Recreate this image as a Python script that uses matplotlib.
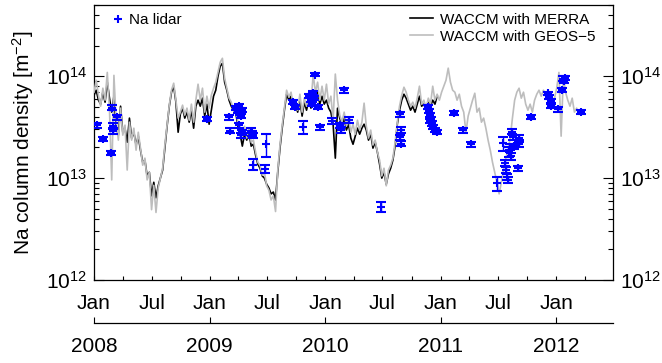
import numpy as np
import pandas as pd
import matplotlib
matplotlib.use("Agg")
import matplotlib.pyplot as plt
import matplotlib.dates as mdates
from matplotlib.lines import Line2D
from matplotlib.ticker import LogLocator, NullFormatter, NullLocator

plt.rcParams['font.family'] = ['Liberation Sans', 'DejaVu Sans']
plt.rcParams['mathtext.fontset'] = 'custom'
plt.rcParams['mathtext.rm'] = 'Liberation Sans'
plt.rcParams['mathtext.it'] = 'Liberation Sans:italic'

# Column densities are given in units of 1e13 m^-2
UNIT = 1e13

# WACCM model output, weekly samples starting 1 Jan 2008
model_start = "2008-01-01"
model_step_days = 7

merra_na = [
    6.51, 7.29, 5.82, 5.32, 6.97, 5.56, 8.74, 6.09, 4.44, 6.37,
    3.23, 2.64, 5.08, 2.82, 3.09, 2.25, 3.88, 2.47, 2.82, 2.11,
    2.58, 1.88, 1.43, 1.50, 1.05, 1.14, 0.67, 0.91, 0.64, 0.84,
    1.00, 1.20, 1.97, 3.23, 5.08, 6.97, 7.98, 5.56, 2.82, 4.24,
    4.86, 3.88, 4.44, 3.54, 4.64, 3.09, 5.08, 5.82, 5.08, 6.09,
    4.06, 5.32, 3.38, 4.64, 6.37, 7.29, 10.0, 12.5, 13.4, 8.74,
    7.29, 5.82, 5.08, 4.64, 4.44, 3.23, 2.70, 2.06, 2.70, 2.36,
    2.82, 2.06, 2.15, 1.68, 1.37, 1.25, 1.05, 1.00, 0.87, 0.80,
    0.70, 0.73, 0.61, 1.14, 1.97, 3.09, 4.64, 6.66, 5.82, 6.37,
    4.86, 5.32, 4.44, 5.82, 4.06, 5.56, 4.64, 5.82, 4.86, 7.29,
    6.09, 6.97, 5.32, 6.37, 5.32, 5.82, 4.86, 4.44, 3.38, 1.57,
    4.86, 3.88, 3.23, 3.88, 2.96, 3.38, 2.47, 2.15, 2.58, 3.09,
    2.70, 3.09, 3.38, 2.96, 2.36, 2.70, 1.97, 2.25, 1.80, 1.37,
    1.00, 1.14, 0.87, 1.10, 1.25, 1.50, 2.06, 3.38, 4.64, 5.82,
    6.66, 6.09, 5.32, 4.64, 5.08, 4.44, 5.32, 6.37, 5.08, 5.32,
    4.64, 5.56, 5.08, 5.82, 5.32, 6.37,
]

geos5_na = [
    6.97, 9.14, 6.51, 5.08, 7.63, 5.82, 10.9, 4.64, 0.96, 10.2,
    3.70, 2.36, 4.86, 2.64, 3.31, 1.20, 3.54, 2.36, 3.09, 1.88,
    2.82, 1.97, 1.34, 1.57, 0.96, 1.14, 0.49, 0.85, 0.46, 0.80,
    1.00, 1.25, 2.11, 3.31, 5.20, 7.29, 8.54, 5.82, 3.88, 4.44,
    5.20, 4.15, 4.86, 3.70, 5.32, 3.54, 5.82, 8.35, 5.82, 7.63,
    4.44, 6.37, 4.86, 6.51, 7.63, 8.74, 10.9, 13.7, 15.0, 9.56,
    7.63, 6.09, 5.56, 4.64, 4.86, 3.54, 3.09, 2.64, 3.23, 2.47,
    3.09, 2.25, 2.36, 1.80, 1.43, 1.34, 1.07, 1.14, 0.84, 0.76,
    0.61, 0.67, 0.47, 1.20, 2.11, 3.31, 4.86, 7.29, 6.23, 6.97,
    5.20, 5.82, 4.64, 6.66, 4.44, 6.09, 5.08, 6.37, 5.32, 10.5,
    6.97, 8.74, 5.82, 7.98, 5.82, 8.35, 5.32, 6.37, 3.70, 10.5,
    5.82, 4.15, 3.54, 4.44, 3.23, 3.88, 2.82, 3.38, 2.70, 3.70,
    2.96, 3.54, 5.44, 3.23, 2.47, 2.96, 2.11, 2.36, 1.80, 1.50,
    1.05, 1.25, 0.84, 1.20, 1.34, 1.57, 2.25, 3.54, 5.08, 6.51,
    7.80, 6.97, 5.82, 5.08, 5.56, 4.86, 6.09, 7.98, 5.32, 5.82,
    4.86, 6.09, 5.32, 7.98, 5.82, 6.66, 5.82, 6.97, 7.98, 9.14,
    12.0, 8.74, 7.29, 6.97, 5.82, 6.66, 5.08, 4.44, 2.82, 4.06,
    4.86, 5.82, 6.81, 4.44, 4.86, 3.54, 3.88, 3.09, 2.36, 1.88,
    1.43, 1.14, 0.91, 0.70, 0.91, 1.20, 1.57, 1.88, 2.47, 3.88,
    5.82, 6.97, 7.63, 6.09, 6.97, 5.32, 4.64, 5.32, 4.44, 5.82,
    6.66, 7.29, 6.37, 7.29, 6.66, 5.82, 6.37, 5.08, 6.09, 7.63,
    10.9, 2.58, 10.0, 6.97, 5.82, 5.08, 6.09, 4.44, 4.86, 4.24,
]

# Na lidar observations with 1-sigma uncertainties
lidar_dates = [
    "2008-01-12", "2008-01-31", "2008-02-25", "2008-02-28", "2008-03-01",
    "2008-03-02", "2008-03-13", "2008-12-23", "2009-03-04", "2009-03-06",
    "2009-03-26", "2009-03-31", "2009-04-03", "2009-04-05", "2009-04-08",
    "2009-04-10", "2009-04-11", "2009-04-13", "2009-04-14", "2009-05-10",
    "2009-05-13", "2009-05-17", "2009-05-18", "2009-06-26", "2009-06-29",
    "2009-09-22", "2009-09-26", "2009-10-23", "2009-11-12", "2009-11-17",
    "2009-11-19", "2009-11-22", "2009-11-27", "2009-12-01", "2009-12-09",
    "2009-12-15", "2010-01-23", "2010-02-17", "2010-02-20", "2010-03-03",
    "2010-03-17", "2010-06-25", "2010-08-25", "2010-08-27", "2010-08-28",
    "2010-08-29", "2010-11-21", "2010-11-26", "2010-11-28", "2010-11-29",
    "2010-12-02", "2010-12-04", "2010-12-07", "2010-12-13", "2010-12-20",
    "2011-02-13", "2011-03-12", "2011-04-06", "2011-06-27", "2011-07-18",
    "2011-07-24", "2011-07-26", "2011-07-29", "2011-08-01", "2011-08-05",
    "2011-08-09", "2011-08-11", "2011-08-14", "2011-08-17", "2011-08-20",
    "2011-09-04", "2011-09-06", "2011-09-07", "2011-10-13", "2011-12-05",
    "2011-12-10", "2011-12-15", "2011-12-17", "2012-01-08", "2012-01-21",
    "2012-01-23", "2012-01-25", "2012-01-28", "2012-03-21",
]
lidar_na = [
    3.31, 2.44, 1.75, 4.93, 2.91, 3.23, 3.94, 3.83, 3.94, 2.93,
    4.86, 4.54, 3.31, 5.08, 4.34, 2.64, 4.05, 2.82, 4.64, 2.92,
    2.76, 2.64, 1.36, 1.24, 2.15, 5.60, 5.02, 3.18, 6.37, 5.82,
    5.32, 6.81, 6.09, 10.34, 5.02, 3.14, 3.65, 3.31, 2.96, 7.29,
    3.75, 0.523, 4.24, 2.52, 2.18, 2.99, 4.97, 4.54, 3.62, 4.15,
    3.79, 3.46, 3.16, 2.96, 2.82, 4.34, 2.96, 2.14, 0.887, 2.19,
    1.40, 1.20, 1.02, 0.96, 1.80, 2.01, 1.64, 2.84, 2.52, 2.06,
    1.25, 2.50, 2.15, 3.99, 6.77, 6.27, 5.69, 5.11, 4.75, 7.29,
    9.49, 8.93, 9.66, 4.47,
]
lidar_err = [
    0.19, 0.12, 0.08, 0.28, 0.20, 0.23, 0.23, 0.18, 0.18, 0.14,
    0.22, 0.22, 0.19, 0.24, 0.20, 0.15, 0.20, 0.15, 0.22, 0.17,
    0.16, 0.15, 0.17, 0.12, 0.54, 0.25, 0.22, 0.48, 0.30, 0.28,
    0.25, 0.30, 0.28, 0.40, 0.24, 0.15, 0.25, 0.20, 0.18, 0.40,
    0.25, 0.058, 0.25, 0.15, 0.13, 0.22, 0.25, 0.22, 0.18, 0.20,
    0.20, 0.18, 0.16, 0.15, 0.14, 0.18, 0.16, 0.12, 0.135, 0.33,
    0.10, 0.08, 0.07, 0.07, 0.20, 0.14, 0.12, 0.16, 0.14, 0.12,
    0.07, 0.14, 0.12, 0.20, 0.30, 0.30, 0.28, 0.25, 0.25, 0.35,
    0.45, 0.42, 0.45, 0.20,
]

fig = plt.figure(figsize=(6.62, 3.63), dpi=100)
W, H = 662, 363
ax = fig.add_axes([94 / W, 1 - 280 / H, (613 - 94) / W, (280 - 5) / H])

merra_t = pd.date_range(model_start, periods=len(merra_na), freq=f"{model_step_days}D")
geos5_t = pd.date_range(model_start, periods=len(geos5_na), freq=f"{model_step_days}D")

l_merra, = ax.plot(merra_t, np.array(merra_na) * UNIT, color="black", lw=1.2,
                   zorder=2)
l_geos, = ax.plot(geos5_t, np.array(geos5_na) * UNIT, color="#bdbdbd", lw=1.2,
                  zorder=3)
ax.errorbar(pd.to_datetime(lidar_dates), np.array(lidar_na) * UNIT,
            yerr=np.array(lidar_err) * UNIT, fmt="+", color="blue",
            ms=6, mew=1.5, elinewidth=1.0, capsize=3.5, capthick=1.0, zorder=5)

ax.set_yscale("log")
ax.set_ylim(1e12, 5e14)
ax.set_xlim(pd.Timestamp("2008-01-01"), pd.Timestamp("2012-06-29"))

# x axis: months
ax.xaxis.set_major_locator(mdates.MonthLocator(bymonth=[1, 7]))
ax.xaxis.set_minor_locator(mdates.MonthLocator(bymonth=[4, 10]))
ax.xaxis.set_major_formatter(mdates.DateFormatter("%b"))
ax.tick_params(axis="x", which="both", direction="in", length=3.2, width=0.8,
               top=False, labelsize=15, pad=10)

# y axis: log decades on both sides
ax.yaxis.set_major_locator(LogLocator(base=10, numticks=10))
ax.yaxis.set_minor_locator(LogLocator(base=10, subs=np.arange(2, 10), numticks=20))
ax.yaxis.set_minor_formatter(NullFormatter())
ax.tick_params(axis="y", which="major", direction="in", length=7, width=0.8,
               left=True, right=True, labelleft=True, labelright=True,
               labelsize=15, pad=5)
ax.tick_params(axis="y", which="minor", direction="in", length=3.8, width=0.8,
               left=True, right=True)
for s in ax.spines.values():
    s.set_linewidth(0.9)

ax.set_ylabel("Na column density [m$^{-2}$]", fontsize=15)
ax.yaxis.set_label_coords(-0.112, 0.5)

# second x axis: years
sec = ax.secondary_xaxis(-43 / 275)
sec.xaxis.set_major_locator(mdates.YearLocator())
sec.xaxis.set_minor_locator(NullLocator())
sec.xaxis.set_major_formatter(mdates.DateFormatter("%Y"))
sec.tick_params(axis="x", direction="in", length=4, width=0.8, labelsize=15, pad=10)
sec.spines["bottom"].set_linewidth(0.9)

# legends
lidar_handle = Line2D([], [], ls="none", marker="+", color="blue", ms=6, mew=1.5)
leg1 = ax.legend([lidar_handle], ["Na lidar"], loc="upper left",
                 bbox_to_anchor=((110 - 94) / 519, 0.97), borderaxespad=0,
                 borderpad=0, frameon=False, fontsize=11, handlelength=1.0,
                 handletextpad=0.25)
ax.add_artist(leg1)
ax.legend([l_merra, l_geos], ["WACCM with MERRA", "WACCM with GEOS\u22125"],
          loc="upper left", bbox_to_anchor=((410 - 94) / 519, 0.972),
          borderaxespad=0, borderpad=0, frameon=False, fontsize=11,
          handlelength=1.5, handletextpad=0.45, labelspacing=0.2)

fig.savefig("out.png", dpi=100)
